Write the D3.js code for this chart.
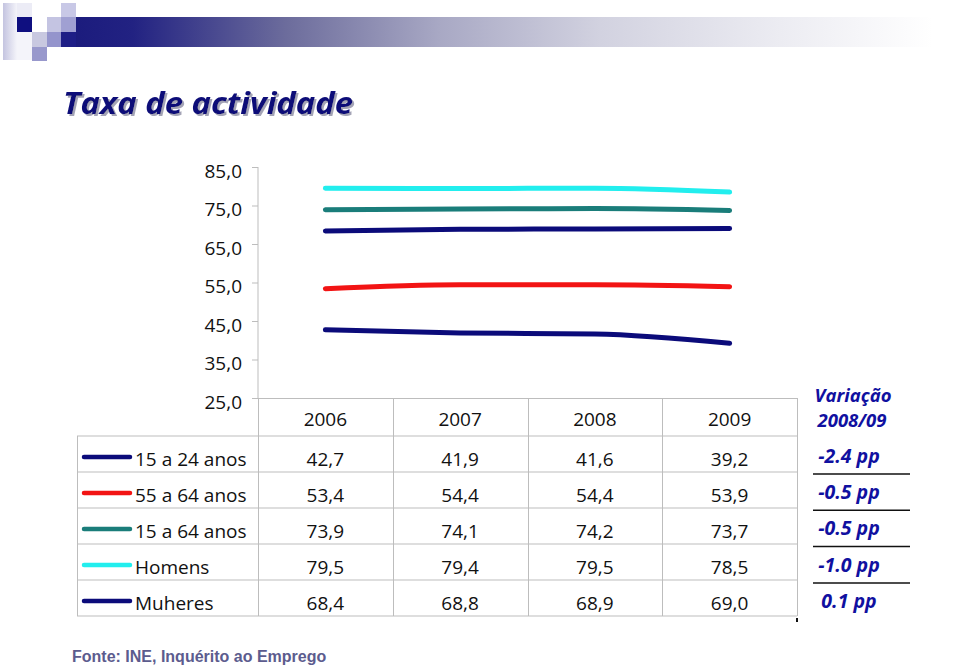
<!DOCTYPE html>
<html><head><meta charset="utf-8">
<script src="https://cdn.jsdelivr.net/npm/d3@7"></script>
<style>body{margin:0;background:#fff} svg{display:block}</style>
</head><body><svg id="c" width="960" height="665"></svg>
<script>
const years = ["2006","2007","2008","2009"];
const seriesNames = ["15 a 24 anos","55 a 64 anos","15 a 64 anos","Homens","Muheres"];
const v15_24 = [42.7,41.9,41.6,39.2];
const v55_64 = [53.4,54.4,54.4,53.9];
const v15_64 = [73.9,74.1,74.2,73.7];
const vHomens = [79.5,79.4,79.5,78.5];
const vMulheres = [68.4,68.8,68.9,69.0];
const variacao = ["-2.4 pp","-0.5 pp","-0.5 pp","-1.0 pp","0.1 pp"];
const yTicks = [25,35,45,55,65,75,85];
const seriesColors = ["#0b0b7a","#f21414","#1a7d7a","#22eeee","#0b0b7a"];
const title = "Taxa de actividade";
const source = "Fonte: INE, Inquérito ao Emprego";

const series = seriesNames.map((n,i)=>({name:n, values:[v15_24,v55_64,v15_64,vHomens,vMulheres][i], color:seriesColors[i]}));
const svg = d3.select("#c");
const fmt = v => d3.format(".1f")(v).replace(".", ",");

// header decoration
const defs = svg.append("defs");
const g = defs.append("linearGradient").attr("id","bar").attr("gradientUnits","userSpaceOnUse")
  .attr("x1",61).attr("x2",960).attr("y1",0).attr("y2",0);
[[0,"#1a1a7c"],[0.08,"#222282"],[0.25,"#6c6c9c"],[0.42,"#a8a8c4"],[0.6,"#d2d2e0"],[0.8,"#ececf2"],[0.97,"#ffffff"]]
  .forEach(([o,c])=>g.append("stop").attr("offset",o).attr("stop-color",c));
const lg = defs.append("linearGradient").attr("id","lite").attr("x1",0).attr("x2",1).attr("y1",0).attr("y2",0);
lg.append("stop").attr("offset",0).attr("stop-color","#c4c4e0");
lg.append("stop").attr("offset",1).attr("stop-color","#f4f4fa");
const sh = defs.append("filter").attr("id","shadow").attr("x","-5%").attr("y","-20%").attr("width","115%").attr("height","150%");
sh.append("feDropShadow").attr("dx",2).attr("dy",2).attr("stdDeviation",0.6).attr("flood-color","#9a9aae").attr("flood-opacity",0.9);
const deco = svg.append("g");
deco.append("rect").attr("x",61).attr("y",17).attr("width",899).attr("height",30).attr("fill","url(#bar)");
deco.append("rect").attr("x",3).attr("y",3).attr("width",14).attr("height",57).attr("fill","url(#lite)");
deco.append("rect").attr("x",17).attr("y",3).attr("width",15).attr("height",14).attr("fill","#ececf6");
deco.append("rect").attr("x",17).attr("y",32).attr("width",15).attr("height",28).attr("fill","#f4f4fa");
deco.append("rect").attr("x",17).attr("y",17).attr("width",15).attr("height",15).attr("fill","#0f0f80");
deco.append("rect").attr("x",32).attr("y",32).attr("width",15).attr("height",15).attr("fill","#c8c8e0");
deco.append("rect").attr("x",32).attr("y",47).attr("width",15).attr("height",14).attr("fill","#9898cc");
deco.append("rect").attr("x",47).attr("y",17).attr("width",14).attr("height",15).attr("fill","#c4c4e2");
deco.append("rect").attr("x",47).attr("y",32).attr("width",14).attr("height",15).attr("fill","#9494cc");
deco.append("rect").attr("x",61).attr("y",3).attr("width",15).attr("height",14).attr("fill","#c8c8e6");
deco.append("rect").attr("x",61).attr("y",17).attr("width",15).attr("height",15).attr("fill","#a0a0d2");
deco.append("rect").attr("x",61).attr("y",32).attr("width",15).attr("height",15).attr("fill","#1e1e86");

// title (shadow via filter)
svg.append("text").attr("x",63).attr("y",114).text(title)
  .attr("font-family","Open Sans").attr("font-weight","bold").attr("font-style","italic")
  .attr("font-size",31).attr("textLength",290).attr("lengthAdjust","spacingAndGlyphs")
  .attr("fill","#0c0c78").attr("filter","url(#shadow)");

// scales
const x = d3.scaleBand().domain(years).range([258,797]);
const y = d3.scaleLinear().domain([25,85]).range([398,167]);
const gridColor = "#bdbdbd";

// y axis
const yAxis = d3.axisLeft(y).tickValues(yTicks).tickFormat(fmt).tickSize(6).tickPadding(10);
const ya = svg.append("g").attr("transform","translate(258,0)").call(yAxis);
ya.select(".domain").attr("stroke",gridColor).attr("d","M0,167V398");
ya.selectAll(".tick line").attr("stroke",gridColor);
ya.selectAll(".tick text").attr("font-family","Open Sans").attr("font-size",19).attr("fill","#111").attr("dy","0.7em").attr("y",-3).attr("x",-16);

// table
const rowTop = 436, rowH = 36;
const tbl = svg.append("g").attr("stroke",gridColor).attr("stroke-width",1).attr("fill","none");
tbl.append("line").attr("x1",252).attr("x2",797).attr("y1",398.5).attr("y2",398.5);
tbl.append("line").attr("x1",77).attr("x2",797).attr("y1",rowTop).attr("y2",rowTop);
series.forEach((s,i)=>tbl.append("line").attr("x1",77).attr("x2",797).attr("y1",rowTop+rowH*(i+1)).attr("y2",rowTop+rowH*(i+1)));
tbl.append("line").attr("x1",77.5).attr("x2",77.5).attr("y1",rowTop).attr("y2",rowTop+rowH*5);
[258, ...years.map(d=>x(d)+x.bandwidth())].forEach(xx=>
  tbl.append("line").attr("x1",Math.round(xx)+0.5).attr("x2",Math.round(xx)+0.5).attr("y1",398).attr("y2",rowTop+rowH*5));

const txt = (sel)=>sel.attr("font-family","Open Sans").attr("font-size",19).attr("fill","#111");
years.forEach(d=>{
  txt(svg.append("text")).attr("x",x(d)+x.bandwidth()/2).attr("y",426).attr("text-anchor","middle").text(d);
});
series.forEach((s,i)=>{
  const ty = rowTop + rowH*i + 30;
  svg.append("line").attr("x1",84).attr("x2",130).attr("y1",ty-9).attr("y2",ty-9)
    .attr("stroke",s.color).attr("stroke-width",4.5).attr("stroke-linecap","round");
  txt(svg.append("text")).attr("x",135).attr("y",ty).text(s.name);
  s.values.forEach((v,j)=>{
    txt(svg.append("text")).attr("x",x(years[j])+x.bandwidth()/2).attr("y",ty).attr("text-anchor","middle").text(fmt(v));
  });
});

// lines
const line = d3.line().x((d,i)=>x(years[i])+x.bandwidth()/2).y(d=>y(d)).curve(d3.curveMonotoneX);
series.forEach(s=>{
  svg.append("path").attr("d",line(s.values)).attr("fill","none").attr("stroke",s.color)
    .attr("stroke-width",5).attr("stroke-linecap","round").attr("stroke-linejoin","round");
});

// variação
const vc = "#1010a0";
const bi = sel=>sel.attr("font-family","Open Sans").attr("font-weight","bold").attr("font-style","italic").attr("fill",vc).attr("text-anchor","middle");
bi(svg.append("text")).attr("x",853).attr("y",402).attr("font-size",18.5).text("Variação");
bi(svg.append("text")).attr("x",852).attr("y",427).attr("font-size",18.5).text("2008/09");
variacao.forEach((t,i)=>{
  bi(svg.append("text")).attr("x",849).attr("y",463+36.2*i).attr("font-size",19.5).text(t);
  if(i<4) svg.append("line").attr("x1",813).attr("x2",910).attr("y1",474+36.3*i).attr("y2",474+36.3*i).attr("stroke","#111").attr("stroke-width",1.5);
});
svg.append("rect").attr("x",796).attr("y",618).attr("width",2).attr("height",4).attr("fill","#111");

// source
svg.append("text").attr("x",72).attr("y",662).text(source)
  .attr("font-family","Liberation Sans").attr("font-weight","bold").attr("font-size",16).attr("fill","#5c5c8e");
</script></body></html>
